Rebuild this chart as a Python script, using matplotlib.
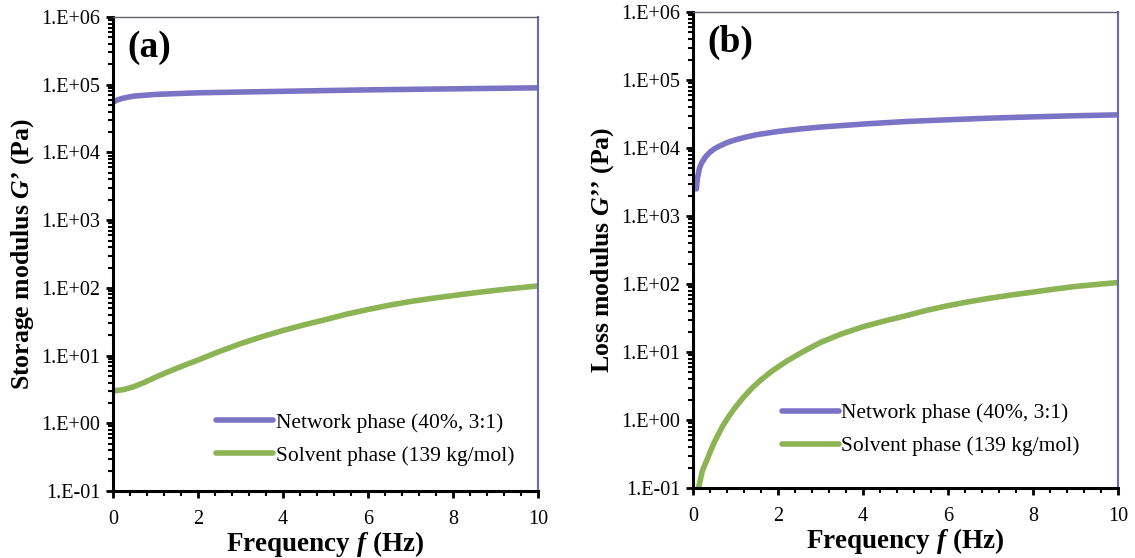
import matplotlib
matplotlib.use("Agg")
import matplotlib.pyplot as plt
import numpy as np
from matplotlib.ticker import FixedLocator, MultipleLocator, FuncFormatter, LogLocator, NullFormatter

plt.rcParams['font.family'] = ['Liberation Serif', 'DejaVu Serif']
plt.rcParams['mathtext.fontset'] = 'custom'
plt.rcParams['mathtext.it'] = 'Liberation Serif:italic:bold'
plt.rcParams['mathtext.rm'] = 'Liberation Serif:bold'
plt.rcParams['mathtext.bf'] = 'Liberation Serif:bold'

# ---- data ----
f_a_net = [0.0, 0.05, 0.1, 0.2, 0.35, 0.5, 0.75, 1.0, 1.5, 2.0, 3.0, 4.0, 5.0, 6.0, 7.0, 8.0, 9.0, 10.0]
g1_net = [5.5e4, 5.75e4, 5.95e4, 6.25e4, 6.55e4, 6.8e4, 7.0e4, 7.2e4, 7.4e4, 7.6e4, 7.8e4, 8.0e4, 8.2e4, 8.4e4, 8.55e4, 8.7e4, 8.85e4, 9.0e4]

f_a_sol = [0.0, 0.25, 0.5, 0.75, 1.0, 1.25, 1.5, 1.75, 2.0, 2.5, 3.0, 3.5, 4.0, 4.5, 5.0, 5.5, 6.0, 6.5, 7.0, 7.5, 8.0, 8.5, 9.0, 9.5, 10.0]
g1_sol = [3.0, 3.15, 3.5, 4.05, 4.8, 5.6, 6.5, 7.5, 8.6, 11.5, 15.0, 19.0, 23.5, 28.5, 34.0, 41.0, 48.0, 55.5, 63.0, 70.0, 77.0, 84.5, 92.0, 99.5, 107.0]

f_b_net = [0.08, 0.1, 0.15, 0.2, 0.3, 0.4, 0.5, 0.6, 0.8, 1.0, 1.25, 1.5, 2.0, 2.5, 3.0, 4.0, 5.0, 6.0, 7.0, 8.0, 9.0, 10.0]
g2_net = [2.5e3, 3.5e3, 5.0e3, 6.0e3, 7.5e3, 8.7e3, 9.7e3, 1.05e4, 1.2e4, 1.32e4, 1.45e4, 1.57e4, 1.75e4, 1.9e4, 2.03e4, 2.25e4, 2.45e4, 2.6e4, 2.75e4, 2.87e4, 2.98e4, 3.07e4]

f_b_sol = [0.13, 0.17, 0.22, 0.28, 0.34, 0.42, 0.5, 0.6, 0.7, 0.85, 1.0, 1.2, 1.4, 1.6, 1.85, 2.2, 2.6, 3.0, 3.5, 4.0, 4.5, 5.0, 5.5, 6.0, 6.5, 7.0, 7.5, 8.0, 8.5, 9.0, 9.5, 10.0]
g2_sol = [0.1, 0.13, 0.18, 0.22, 0.27, 0.36, 0.47, 0.62, 0.82, 1.15, 1.55, 2.2, 3.0, 3.9, 5.2, 7.3, 10.2, 13.8, 18.5, 23.5, 28.5, 34.0, 41.0, 48.0, 55.0, 62.0, 69.0, 76.0, 84.0, 92.0, 98.5, 105.0]

y_ticks = [1e-1, 1e0, 1e1, 1e2, 1e3, 1e4, 1e5, 1e6]
y_ticklabels = ['1.E-01', '1.E+00', '1.E+01', '1.E+02', '1.E+03', '1.E+04', '1.E+05', '1.E+06']
x_ticks = [0, 2, 4, 6, 8, 10]

label_net = 'Network phase (40%, 3:1)'
label_sol = 'Solvent phase (139 kg/mol)'

c_net = '#7b74c4'
c_sol = '#8cb354'

fig = plt.figure(figsize=(11.35, 5.58), dpi=100)
ax_a = fig.add_axes([0.0996, 0.120, 0.3745, 0.8495])
ax_b = fig.add_axes([0.6106, 0.1255, 0.3744, 0.853])


def style(ax, ylabel, ylabelsize, tag, legpos):
    ax.set_yscale('log')
    ax.set_ylim(1e-1, 1e6)
    ax.set_xlim(0, 10)
    ax.yaxis.set_major_locator(FixedLocator(y_ticks))
    ax.yaxis.set_major_formatter(FuncFormatter(lambda v, p: y_ticklabels[y_ticks.index(v)] if v in y_ticks else ''))
    ax.yaxis.set_minor_locator(LogLocator(base=10, subs=np.arange(2, 10)))
    ax.yaxis.set_minor_formatter(NullFormatter())
    ax.xaxis.set_major_locator(FixedLocator(x_ticks))
    ax.xaxis.set_minor_locator(MultipleLocator(0.4))
    ax.tick_params(axis='both', which='major', direction='out', length=5, width=2,
                   labelsize=14.5, color='black', pad=9)
    ax.tick_params(axis='both', which='minor', direction='out', length=3.5, width=1.5, color='black')
    ax.tick_params(axis='y', which='major', pad=4)
    for s in ['left', 'bottom']:
        ax.spines[s].set_color('black')
        ax.spines[s].set_linewidth(2.2)
    ax.spines['top'].set_color('#606070')
    ax.spines['top'].set_linewidth(1.0)
    ax.spines['right'].set_color('#6a68b8')
    ax.spines['right'].set_linewidth(1.5)
    ax.set_xlabel('Frequency $f$ (Hz)', fontsize=19.5, fontweight='bold', labelpad=0)
    ax.set_ylabel(ylabel, fontsize=ylabelsize, fontweight='bold', labelpad=4)
    ax.text(0.033, 0.935, tag, transform=ax.transAxes, fontsize=27, fontweight='bold',
            va='center', ha='left')
    ax.legend(loc='center left', bbox_to_anchor=legpos, frameon=False, fontsize=15.5,
              handlelength=2.65, handletextpad=0.1, labelspacing=0.6, borderpad=0,
              borderaxespad=0)


ax_a.plot(f_a_net, g1_net, color=c_net, lw=4, label=label_net, solid_capstyle='round')
ax_a.plot(f_a_sol, g1_sol, color=c_sol, lw=4, label=label_sol, solid_capstyle='round')
style(ax_a, "Storage modulus $G$\u2019 (Pa)", 18.5, '(a)', (0.243, 0.109))

ax_b.plot(f_b_net, g2_net, color=c_net, lw=4, label=label_net, solid_capstyle='round')
ax_b.plot(f_b_sol, g2_sol, color=c_sol, lw=4, label=label_sol, solid_capstyle='round')
style(ax_b, "Loss modulus $G$\u2019\u2019 (Pa)", 18.5, '(b)', (0.209, 0.122))

fig.savefig('out.png', dpi=100)
